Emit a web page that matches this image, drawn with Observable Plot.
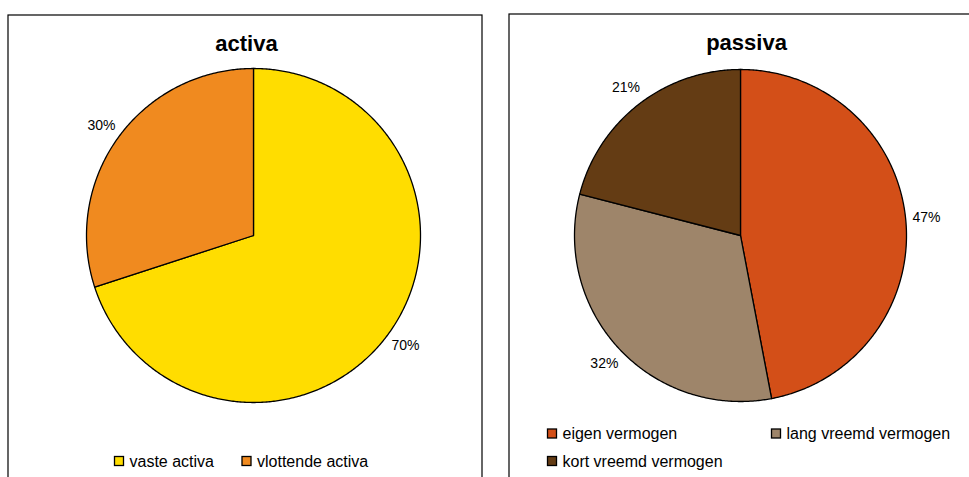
<!DOCTYPE html>
<html>
<head>
<meta charset="utf-8">
<script src="https://cdn.jsdelivr.net/npm/d3@7"></script>
<script src="https://cdn.jsdelivr.net/npm/@observablehq/plot@0.6"></script>
<style>
  html, body { margin: 0; padding: 0; background: #fff; }
  #chart { width: 969px; height: 477px; overflow: hidden; }
</style>
</head>
<body>
<div id="chart"></div>
<script>
// ---- data ----
const activaTitle = "activa";
const activaLabels = ["vaste activa", "vlottende activa"];
const activaValues = [70, 30];
const activaColors = ["#FFDD00", "#F08A1F"];

const passivaTitle = "passiva";
const passivaLabels = ["eigen vermogen", "lang vreemd vermogen", "kort vreemd vermogen"];
const passivaValues = [47, 32, 21];
const passivaColors = ["#D34F18", "#9E856A", "#643C14"];

// ---- layout ----
const W = 969, H = 477;
const panelLayout = [
  {x1: 8, x2: 482, y1: 15, y2: 500, cx: 253, cy: 235, r: 167, tx: 246, ty: 43,
   legend: [{x: 119, y: 461}, {x: 246.5, y: 461}]},
  {x1: 509, x2: 1000, y1: 14, y2: 500, cx: 740, cy: 235, r: 166, tx: 746, ty: 42,
   legend: [{x: 552, y: 433.5}, {x: 776, y: 433.5}, {x: 552, y: 461}]}
];
const labelRadiusFactor = 1.125;

const panels = [
  {title: activaTitle, labels: activaLabels, values: activaValues, colors: activaColors, ...panelLayout[0]},
  {title: passivaTitle, labels: passivaLabels, values: passivaValues, colors: passivaColors, ...panelLayout[1]}
];

const pie = d3.pie().sort(null).value(d => d);

const marks = [];
const frames = [], titles = [], pctLabels = [], swatches = [], legendTexts = [];

for (const p of panels) {
  frames.push({x1: p.x1, x2: p.x2, y1: p.y1, y2: p.y2});
  titles.push({x: p.tx, y: p.ty, text: p.title});
  const total = d3.sum(p.values);
  const arcs = pie(p.values);
  arcs.forEach((a, i) => {
    const step = Math.PI / 360;
    const n = Math.max(2, Math.ceil((a.endAngle - a.startAngle) / step));
    const pts = [{x: p.cx, y: p.cy}];
    for (let k = 0; k <= n; k++) {
      const t = a.startAngle + (a.endAngle - a.startAngle) * k / n;
      pts.push({x: p.cx + p.r * Math.sin(t), y: p.cy - p.r * Math.cos(t)});
    }
    pts.push({x: p.cx, y: p.cy});
    marks.push(Plot.line(pts, {x: "x", y: "y", fill: p.colors[i], stroke: "#000", strokeWidth: 1.3, strokeLinejoin: "round"}));
    const mid = (a.startAngle + a.endAngle) / 2;
    const lr = p.r * labelRadiusFactor;
    pctLabels.push({x: p.cx + lr * Math.sin(mid), y: p.cy - lr * Math.cos(mid), text: Math.round(p.values[i] / total * 100) + "%"});
    const lg = p.legend[i];
    swatches.push({x1: lg.x - 4.5, x2: lg.x + 4.5, y1: lg.y - 4.5, y2: lg.y + 4.5, fill: p.colors[i]});
    legendTexts.push({x: lg.x + 10, y: lg.y, text: p.labels[i]});
  });
}

const chart = Plot.plot({
  width: W,
  height: H,
  margin: 0,
  x: {domain: [0, W], range: [0, W], axis: null},
  y: {domain: [0, H], range: [0, H], axis: null},
  style: {fontFamily: "'Liberation Sans', Arial, sans-serif", background: "#fff"},
  marks: [
    Plot.rect(frames, {x1: "x1", x2: "x2", y1: "y1", y2: "y2", fill: "#fff", stroke: "#000", strokeWidth: 1.2}),
    ...marks,
    Plot.text(titles, {x: "x", y: "y", text: "text", fontSize: 22, fontWeight: "bold", fill: "#000"}),
    Plot.text(pctLabels, {x: "x", y: "y", text: "text", fontSize: 14, fill: "#000"}),
    Plot.rect(swatches, {x1: "x1", x2: "x2", y1: "y1", y2: "y2", fill: d => d.fill, stroke: "#000", strokeWidth: 1.3}),
    Plot.text(legendTexts, {x: "x", y: "y", text: "text", fontSize: 16, textAnchor: "start", fill: "#000"})
  ]
});
document.getElementById("chart").appendChild(chart);
</script>
</body>
</html>
